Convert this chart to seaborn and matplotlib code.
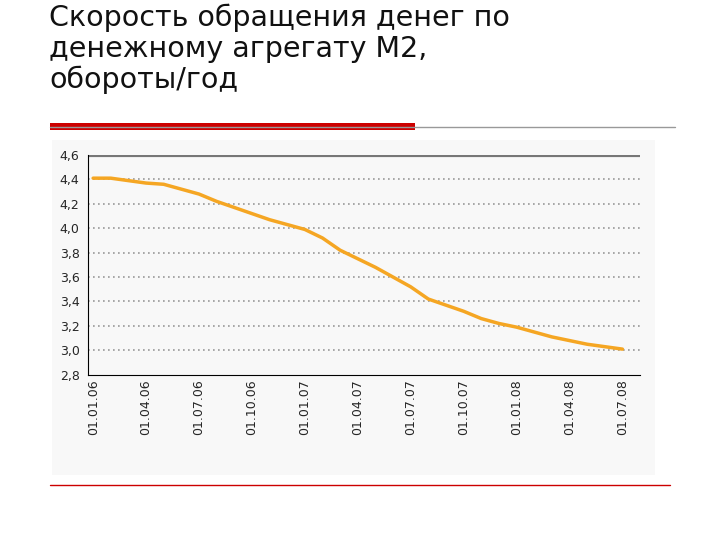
import matplotlib
matplotlib.use("Agg")
import matplotlib.pyplot as plt
import seaborn as sns
import pandas as pd
from matplotlib.lines import Line2D
from matplotlib.patches import Rectangle

months = list(range(31))
values = [4.41, 4.41, 4.39, 4.37, 4.36, 4.32, 4.28, 4.22, 4.17, 4.12, 4.07, 4.03,
          3.99, 3.92, 3.82, 3.75, 3.68, 3.60, 3.52, 3.42, 3.37, 3.32, 3.26, 3.22,
          3.19, 3.15, 3.11, 3.08, 3.05, 3.03, 3.01]
xlabels = ["01.01.06", "01.04.06", "01.07.06", "01.10.06", "01.01.07", "01.04.07",
           "01.07.07", "01.10.07", "01.01.08", "01.04.08", "01.07.08"]
yticks = [2.8, 3.0, 3.2, 3.4, 3.6, 3.8, 4.0, 4.2, 4.4, 4.6]
title = "Скорость обращения денег по\nденежному агрегату М2,\nобороты/год"

df = pd.DataFrame({"m": months, "v": values})
sns.set_style("white")
fig = plt.figure(figsize=(7.2, 5.4), dpi=100)
fig.patch.set_facecolor("white")

fig.text(0.068, 0.993, title, fontsize=20.5, va="top", ha="left", color="#111111",
         linespacing=1.12)
fig.add_artist(Line2D([0.069, 0.937], [0.765, 0.765], color="#999999", lw=1))
fig.add_artist(Rectangle((0.069, 0.759), 0.508, 0.013, color="#CC0000", lw=0))
fig.add_artist(Line2D([0.069, 0.93], [0.102, 0.102], color="#CC0000", lw=1))
fig.add_artist(Rectangle((0.072, 0.12), 0.838, 0.62, color="#F8F8F8", lw=0, zorder=0))

ax = fig.add_axes([0.122, 0.306, 0.767, 0.407])
ax.set_facecolor("#F8F8F8")
sns.lineplot(data=df, x="m", y="v", ax=ax, color="#F5A623", lw=2.5)
ax.set_xlim(-0.3, 31.0)
ax.set_ylim(2.8, 4.6)
ax.set_yticks(yticks)
ax.set_yticklabels([f"{t:.1f}".replace(".", ",") for t in yticks], fontsize=9)
ax.set_xticks(range(0, 31, 3))
ax.set_xticklabels(xlabels, rotation=90, fontsize=9)
ax.set_xticks(range(31), minor=True)
ax.tick_params(axis="x", which="both", direction="in", length=6, width=1, color="black")
ax.tick_params(axis="y", direction="inout", length=5, color="black")
for y in yticks[1:-1]:
    ax.axhline(y, color="#999999", ls=(0, (1, 2)), lw=1.2, zorder=0)
ax.axhline(4.6, color="#777777", lw=3)
ax.set_xlabel(""); ax.set_ylabel("")
for s in ["right", "top"]:
    ax.spines[s].set_visible(False)
ax.spines["left"].set_color("black")
ax.spines["bottom"].set_color("black")
fig.savefig("out.png", dpi=100)
